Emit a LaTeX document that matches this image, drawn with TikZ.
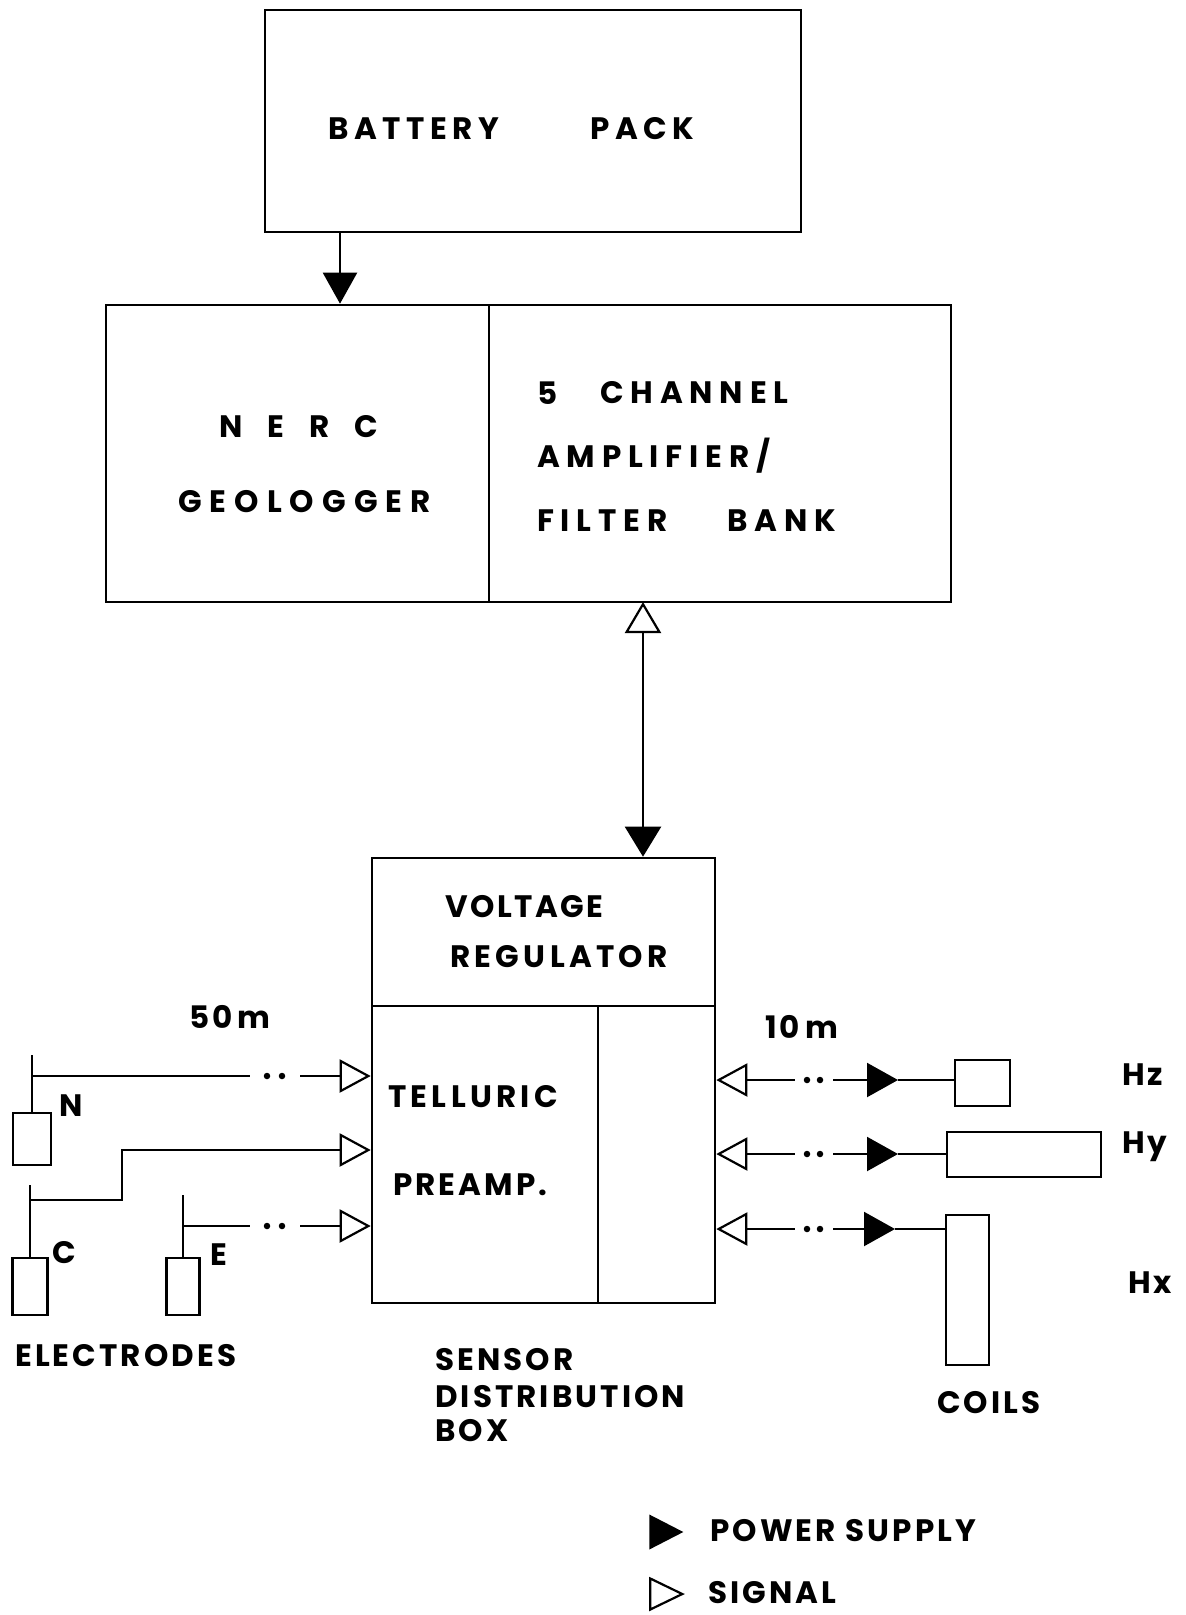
\documentclass[tikz,border=0pt]{standalone}
\usepackage{fontspec}
\setmainfont{Poppins}
\newfontfamily\platefont{Poppins}[LetterSpace=10]
\newfontfamily\tightfont{Poppins}[LetterSpace=8]
\newfontfamily\midfont{Poppins}[LetterSpace=14]
\newfontfamily\broadfont{Poppins}[LetterSpace=18]
\newfontfamily\widefont{Poppins}[LetterSpace=22]
\newfontfamily\geofont{Poppins}[LetterSpace=26]
\usetikzlibrary{arrows.meta, shapes.geometric}

\begin{document}
\begin{tikzpicture}[x=1pt, y=-1pt,
    block/.style={draw, line width=2.6pt, inner sep=0pt},
    wire/.style={line width=2.2pt},
    lbl/.style={font=\platefont\bfseries\fontsize{31}{35}\selectfont, inner sep=0pt, anchor=west},
    midlbl/.style={lbl, font=\midfont\bfseries\fontsize{31}{35}\selectfont},
    broadlbl/.style={lbl, font=\broadfont\bfseries\fontsize{31}{35}\selectfont},
    widelbl/.style={lbl, font=\widefont\bfseries\fontsize{31}{35}\selectfont},
    sig/.style={wire, -{Triangle[open, length=31pt, width=33pt, fill=white]}},
    sigback/.style={wire, {Triangle[open, length=31pt, width=33pt, fill=white]}-},
    pwr/.style={wire, -{Triangle[length=31pt, width=34pt]}},
    dot/.style={circle, fill, inner sep=0pt, minimum size=6.5pt}]
    \fill[white] (0,0) rectangle (1186,1615);

    \node[block, minimum width=536, minimum height=222] (battery) at (533,121) {};
    \node[broadlbl] (batt) at (328,129) {BATTERY};
    \node[broadlbl] (pack) at (590,129) {PACK};

    \node[block, minimum width=383, minimum height=297] (nerc) at (297.5,453.5) {};
    \node[block, minimum width=462, minimum height=297] (amp) at (720,453.5) {};
    \node[lbl] (nercT) at (219,427) {N\hspace{25pt}E\hspace{25pt}R\hspace{25pt}C};
    \node[lbl, font=\geofont\bfseries\fontsize{31}{35}\selectfont] (geo) at (178,502) {GEOLOGGER};
    \node[widelbl] (five) at (537,393) {5};
    \node[widelbl] (chan) at (600,393) {CHANNEL};
    \node[widelbl] (ampl) at (537,456) {AMPLIFIER/};
    \node[widelbl] (filt) at (537,521) {FILTER};
    \node[widelbl] (bank) at (727,521) {BANK};

    \coordinate (bp) at (340,232);
    \draw[pwr] (bp) -- (bp |- nerc.north);

    \node[block, minimum width=343, minimum height=148] (vreg) at (543.5,932) {};
    \node[block, minimum width=226, minimum height=297] (tel) at (485,1154.5) {};
    \node[block, minimum width=117, minimum height=297] (spare) at (656.5,1154.5) {};
    \node[lbl, font=\tightfont\bfseries\fontsize{31}{35}\selectfont] (volt) at (445,907) {VOLTAGE};
    \node[midlbl] (regu) at (450,957) {REGULATOR};
    \node[midlbl] (tellu) at (388,1097) {TELLURIC};
    \node[lbl] (pre) at (393,1185) {PREAMP.};

    \coordinate (link) at (643,602);
    \draw[wire, {Triangle[open, length=31pt, width=36pt, fill=white]}-{Triangle[length=30pt, width=36pt]}] (link) -- (link |- vreg.north);

    \node[block, minimum width=38, minimum height=52] (eN) at (32,1139) {};
    \node[block, minimum width=35, minimum height=57] (eC) at (30,1286.5) {};
    \node[block, minimum width=33, minimum height=57] (eE) at (183,1286.5) {};
    \node[lbl] (nL) at (59,1106) {N};
    \node[lbl] (cL) at (52,1253) {C};
    \node[lbl] (eL) at (210,1255) {E};
    \node[lbl] (fifty) at (189,1017) {50\,m};
    \node[lbl] (electr) at (15,1356) {ELECTRODES};

    \coordinate (nTop) at (32,1055);
    \coordinate (nJ) at (32,1076);
    \coordinate (nGap) at (250,1076);
    \coordinate (nGo) at (300,1076);
    \draw[wire] (eN.north) -- (nTop);
    \draw[wire] (nJ) -- (nGap);
    \node[dot] (nd1) at (267,1076) {};
    \node[dot] (nd2) at (282,1076) {};
    \draw[sig] (nGo) -- (nGo -| tel.west);

    \coordinate (cTop) at (30,1185);
    \coordinate (cJ) at (30,1200);
    \coordinate (cBend) at (122,1150);
    \draw[wire] (eC.north) -- (cTop);
    \draw[sig] (cJ) -| (cBend) -- (cBend -| tel.west);

    \coordinate (eTop) at (183,1195);
    \coordinate (eJ) at (183,1226);
    \coordinate (eGap) at (250,1226);
    \coordinate (eGo) at (300,1226);
    \draw[wire] (eE.north) -- (eTop);
    \draw[wire] (eJ) -- (eGap);
    \node[dot] (ed1) at (267,1226) {};
    \node[dot] (ed2) at (282,1226) {};
    \draw[sig] (eGo) -- (eGo -| tel.west);

    \node[block, minimum width=55, minimum height=46] (hz) at (982.5,1083) {};
    \node[block, minimum width=154, minimum height=45] (hy) at (1024,1154.5) {};
    \node[block, minimum width=43, minimum height=150] (hx) at (967.5,1290) {};
    \node[lbl] (hzL) at (1122,1075) {Hz};
    \node[lbl] (hyL) at (1122,1147) {Hy};
    \node[lbl] (hxL) at (1128,1283) {Hx};
    \node[lbl] (ten) at (765,1027) {10\,m};
    \node[lbl] (coils) at (937,1403) {COILS};

    \coordinate (zGap) at (795,1080);
    \coordinate (zGo) at (833,1080);
    \coordinate (zTip) at (898,1080);
    \draw[sigback] (spare.east |- zGap) -- (zGap);
    \node[dot] (zd1) at (807,1080) {};
    \node[dot] (zd2) at (820,1080) {};
    \draw[pwr] (zGo) -- (zTip);
    \draw[wire] (zTip) -- (zTip -| hz.west);

    \coordinate (yGap) at (795,1154);
    \coordinate (yGo) at (833,1154);
    \coordinate (yTip) at (898,1154);
    \draw[sigback] (spare.east |- yGap) -- (yGap);
    \node[dot] (yd1) at (807,1154) {};
    \node[dot] (yd2) at (820,1154) {};
    \draw[pwr] (yGo) -- (yTip);
    \draw[wire] (yTip) -- (yTip -| hy.west);

    \coordinate (xGap) at (795,1229);
    \coordinate (xGo) at (833,1229);
    \coordinate (xTip) at (895,1229);
    \draw[sigback] (spare.east |- xGap) -- (xGap);
    \node[dot] (xd1) at (807,1229) {};
    \node[dot] (xd2) at (820,1229) {};
    \draw[pwr] (xGo) -- (xTip);
    \draw[wire] (xTip) -- (xTip -| hx.west);

    \node[lbl] (sens) at (435,1360) {SENSOR};
    \node[lbl] (distr) at (435,1397) {DISTRIBUTION};
    \node[lbl] (boxL) at (435,1431) {BOX};

    \node[isosceles triangle, isosceles triangle stretches, fill, inner sep=0pt, minimum height=34, minimum width=35] (legP) at (660,1532) {};
    \node[isosceles triangle, isosceles triangle stretches, draw, line width=2.2pt, inner sep=0pt, minimum height=32, minimum width=31] (legS) at (660,1594) {};
    \node[lbl] (legPT) at (710,1531) {POWER SUPPLY};
    \node[lbl] (legST) at (708,1593) {SIGNAL};
\end{tikzpicture}
\end{document}
